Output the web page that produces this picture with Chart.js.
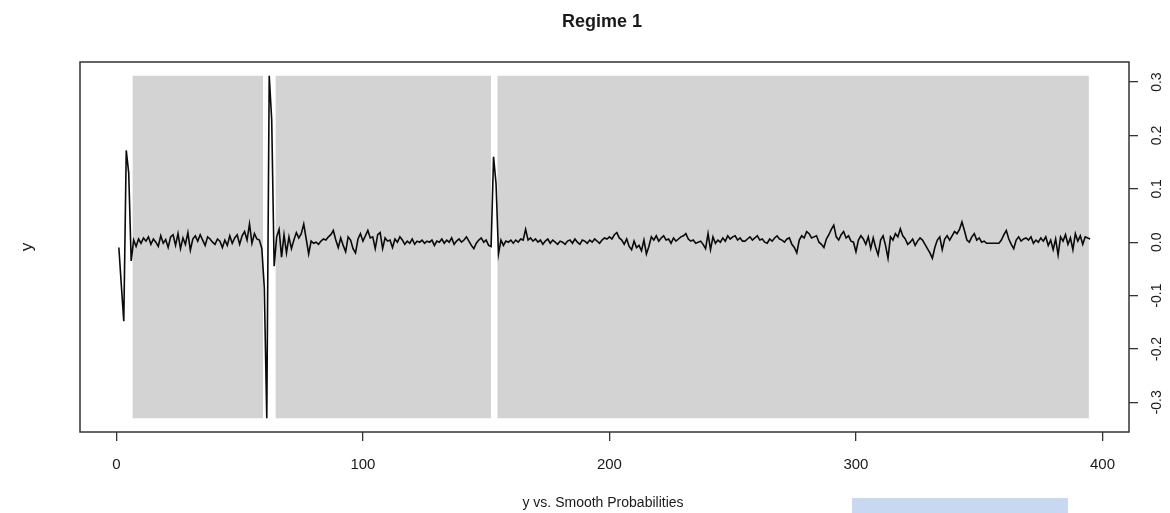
<!DOCTYPE html>
<html>
<head>
<meta charset="utf-8">
<script src="https://cdn.jsdelivr.net/npm/chart.js@4.4.1/dist/chart.umd.min.js"></script>
<style>
  html, body { margin: 0; padding: 0; background: #fff; }
</style>
</head>
<body>
<canvas id="myChart" width="1170" height="513"></canvas>
<script>
// series y, t = 1..395
const yValues = [
  -0.010, -0.080, -0.148, 0.172, 0.130, -0.035, 0.004, -0.008, 0.006, -0.002,
  0.008, 0.002, 0.010, -0.004, 0.006, 0.000, -0.008, 0.012, -0.002, 0.005,
  -0.010, 0.010, 0.014, -0.006, 0.016, -0.012, 0.008, -0.004, 0.018, -0.015,
  0.006, 0.012, 0.002, 0.014, 0.004, -0.006, 0.010, 0.006, 0.000, -0.004,
  0.006, 0.002, -0.010, 0.004, -0.006, 0.012, -0.002, 0.008, 0.014, -0.004,
  0.012, 0.020, 0.004, 0.034, -0.002, 0.016, 0.006, 0.004, -0.012, -0.085,
  -0.330, 0.312, 0.230, -0.045, 0.010, 0.024, -0.028, 0.014, -0.020, 0.010,
  -0.012, 0.004, 0.018, 0.008, 0.016, 0.034, 0.006, -0.022, 0.002, -0.002,
  0.000, -0.004, 0.002, 0.006, 0.004, 0.010, 0.014, 0.022, 0.004, -0.010,
  0.008, -0.006, -0.018, 0.010, 0.004, -0.012, -0.020, 0.006, 0.016, 0.002,
  0.012, 0.022, 0.008, 0.010, -0.012, 0.014, 0.018, -0.012, 0.008, 0.002,
  0.004, -0.010, 0.006, 0.000, 0.010, 0.004, -0.004, 0.002, -0.002, 0.006,
  -0.004, 0.002, 0.000, 0.004, -0.002, 0.002, 0.000, 0.004, -0.006, 0.002,
  0.000, 0.006, -0.002, 0.004, 0.000, 0.008, -0.004, 0.002, 0.006, 0.000,
  0.004, 0.010, 0.002, -0.006, -0.012, -0.002, 0.004, 0.008, 0.000, 0.004,
  -0.006, -0.008, 0.160, 0.110, -0.022, 0.004, -0.006, 0.002, 0.000, 0.004,
  -0.002, 0.004, 0.000, 0.006, 0.004, 0.024, 0.004, 0.008, 0.002, 0.006,
  0.000, 0.004, -0.004, 0.002, 0.006, -0.002, 0.004, 0.000, -0.004, 0.002,
  0.000, -0.004, 0.002, 0.004, -0.002, 0.006, 0.000, -0.004, 0.004, 0.002,
  -0.002, 0.004, 0.000, 0.006, 0.002, -0.002, 0.004, 0.008, 0.006, 0.010,
  0.006, 0.014, 0.018, 0.008, 0.004, -0.004, 0.006, -0.008, -0.014, 0.002,
  -0.010, -0.006, -0.016, 0.004, -0.022, -0.008, 0.010, 0.004, 0.012, 0.002,
  0.008, 0.012, 0.004, 0.006, -0.002, 0.008, 0.002, 0.006, 0.010, 0.012,
  0.016, 0.006, 0.002, 0.004, -0.002, 0.000, 0.002, -0.004, -0.012, 0.016,
  -0.014, 0.010, -0.002, 0.004, 0.000, 0.008, 0.002, 0.012, 0.006, 0.010,
  0.012, 0.004, 0.008, 0.002, 0.002, 0.006, 0.010, 0.004, 0.008, 0.012,
  0.004, 0.006, 0.000, -0.002, 0.006, 0.002, 0.008, 0.012, 0.006, 0.004,
  0.000, 0.006, 0.008, -0.004, -0.010, -0.020, 0.004, 0.012, 0.008, 0.020,
  0.016, 0.008, 0.010, 0.012, 0.000, -0.004, -0.010, 0.006, 0.014, 0.024,
  0.032, 0.010, 0.004, 0.014, 0.020, 0.008, 0.012, 0.002, 0.000, -0.018,
  0.004, 0.012, 0.006, -0.004, 0.010, -0.012, 0.008, -0.010, -0.024, 0.004,
  0.012, -0.006, -0.030, 0.010, 0.004, 0.016, 0.010, 0.025, 0.012, 0.006,
  -0.004, 0.000, 0.006, -0.006, 0.002, 0.008, 0.004, -0.004, -0.012, -0.020,
  -0.030, -0.010, 0.004, 0.010, -0.014, 0.006, 0.012, 0.004, 0.012, 0.020,
  0.016, 0.024, 0.038, 0.022, 0.004, 0.000, 0.010, 0.016, 0.004, 0.008,
  0.000, 0.002, -0.002, -0.002, -0.002, -0.002, -0.002, -0.002, 0.004, 0.014,
  0.022, 0.006, -0.004, -0.012, 0.004, 0.010, 0.002, 0.006, 0.008, 0.004,
  0.010, -0.002, 0.004, 0.000, 0.008, 0.002, 0.010, -0.006, 0.004, -0.014,
  0.006, -0.024, 0.010, 0.002, 0.014, -0.004, 0.008, -0.014, 0.016, 0.002,
  0.012, -0.004, 0.010, 0.008, 0.006
];

// regime 1 periods (smooth prob ~ 1)
const regimeStart = [6.5, 64.5, 154.5];
const regimeEnd = [59.5, 152.0, 394.5];
const probTop = 0.312;
const probBottom = -0.330;

const xTicks = [0, 100, 200, 300, 400];
const yTicks = [-0.3, -0.2, -0.1, 0.0, 0.1, 0.2, 0.3];
const yTickLabels = ['-0.3', '-0.2', '-0.1', '0.0', '0.1', '0.2', '0.3'];

const FONT = "'Liberation Sans', Arial, sans-serif";

var datasets = [{
  label: 'y',
  data: yValues.map(function (v, i) { return { x: i + 1, y: v }; }),
  borderColor: '#0a0a0a',
  borderWidth: 1.6,
  pointRadius: 0,
  tension: 0,
  fill: false,
  order: 0
}];

for (let i = 0; i < regimeStart.length; i++) {
  datasets.push({
    label: 'regime' + i,
    data: [{ x: regimeStart[i], y: probTop }, { x: regimeEnd[i], y: probTop }],
    borderWidth: 0,
    borderColor: 'rgba(0,0,0,0)',
    backgroundColor: '#d3d3d3',
    pointRadius: 0,
    fill: { value: probBottom },
    order: 1
  });
}

const decor = {
  id: 'decor',
  afterDraw: function (chart) {
    const ctx = chart.ctx;
    const a = chart.chartArea;
    const ys = chart.scales.y;
    ctx.save();
    // box
    ctx.strokeStyle = '#333';
    ctx.lineWidth = 1.5;
    ctx.strokeRect(a.left, a.top, a.right - a.left, a.bottom - a.top);

    ctx.fillStyle = '#1a1a1a';
    ctx.textAlign = 'center';
    ctx.textBaseline = 'middle';
    // title
    ctx.font = 'bold 18px ' + FONT;
    ctx.fillText('Regime 1', 602, 22);
    // x label
    ctx.font = '14px ' + FONT;
    ctx.fillText('y vs. Smooth Probabilities', 603, 503);
    // y label
    ctx.save();
    ctx.translate(27, 247);
    ctx.rotate(-Math.PI / 2);
    ctx.font = '17px ' + FONT;
    ctx.fillText('y', 0, 0);
    ctx.restore();
    // right axis labels
    ctx.font = '14px ' + FONT;
    for (let i = 0; i < yTicks.length; i++) {
      const py = ys.getPixelForValue(yTicks[i]);
      ctx.save();
      ctx.translate(1157, py);
      ctx.rotate(-Math.PI / 2);
      ctx.fillText(yTickLabels[i], 0, 0);
      ctx.restore();
    }
    // blue box at bottom
    ctx.fillStyle = '#c6d9f1';
    ctx.fillRect(852, 498, 216, 15);
    ctx.restore();
  }
};

const config = {
  type: 'line',
  data: { datasets: datasets },
  options: {
    responsive: false,
    devicePixelRatio: 1,
    animation: false,
    events: [],
    layout: { padding: { left: 80, top: 62, right: 0, bottom: 0 } },
    plugins: {
      legend: { display: false },
      title: { display: false },
      tooltip: { enabled: false }
    },
    scales: {
      x: {
        type: 'linear',
        min: -14.76,
        max: 410.76,
        afterBuildTicks: function (s) { s.ticks = xTicks.map(function (v) { return { value: v }; }); },
        afterFit: function (s) { s.height = 81; },
        border: { display: false },
        grid: { drawOnChartArea: false, drawTicks: true, tickLength: 9, color: '#333', lineWidth: 1.3 },
        ticks: {
          color: '#1a1a1a',
          font: { family: FONT, size: 15 },
          padding: 15,
          maxRotation: 0,
          autoSkip: false
        }
      },
      y: {
        type: 'linear',
        position: 'right',
        min: -0.3557,
        max: 0.3377,
        afterBuildTicks: function (s) { s.ticks = yTicks.map(function (v) { return { value: v }; }); },
        afterFit: function (s) { s.width = 41; },
        border: { display: false },
        grid: { drawOnChartArea: false, drawTicks: true, tickLength: 9, color: '#333', lineWidth: 1.3 },
        ticks: { display: false }
      }
    }
  },
  plugins: [decor]
};

const myChart = new Chart(document.getElementById('myChart'), config);
</script>
</body>
</html>
